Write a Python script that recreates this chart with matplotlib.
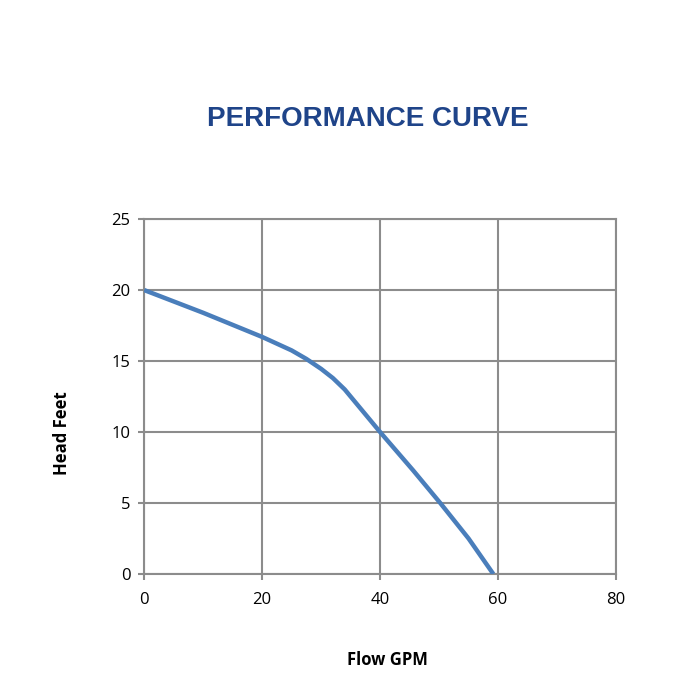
import matplotlib
matplotlib.use("Agg")
import matplotlib.pyplot as plt

flow = [0, 10, 20, 25, 27.5, 30, 32, 34, 35.5, 37, 38.5, 40, 45.6, 50.2, 55, 59.2]
head = [20, 18.4, 16.7, 15.75, 15.15, 14.45, 13.8, 13.0, 12.25, 11.5, 10.75, 10, 7.3, 5.0, 2.5, 0]
x_ticks = [0, 20, 40, 60, 80]
y_ticks = [0, 5, 10, 15, 20, 25]

fig = plt.figure(figsize=(7, 7), dpi=100)
ax = fig.add_axes([0.206, 0.18, 0.674, 0.507])
ax.plot(flow, head, color="#4A7EBB", lw=3.2, solid_capstyle="butt",
        solid_joinstyle="round", zorder=3)
ax.set_xlim(0, 80)
ax.set_ylim(0, 25)
ax.set_xticks(x_ticks)
ax.set_yticks(y_ticks)
ax.grid(True, color="#8C8C8C", lw=1.5)
for s in ax.spines.values():
    s.set_color("#8C8C8C")
    s.set_linewidth(1.5)
ax.tick_params(colors="#8C8C8C", length=4, width=1.5, labelcolor="black", labelsize=12)
ax.tick_params(axis="x", pad=9)
ax.tick_params(axis="y", pad=6)
for lab in ax.get_xticklabels() + ax.get_yticklabels():
    lab.set_family("Open Sans")
fig.text(0.554, 0.057, "Flow GPM", ha="center", va="center",
         fontfamily="Open Sans", fontweight="bold", fontsize=12)
fig.text(0.0886, 0.381, "Head Feet", ha="center", va="center", rotation=90,
         fontfamily="Open Sans", fontweight="bold", fontsize=12)
fig.text(0.526, 0.830, "PERFORMANCE CURVE", ha="center", va="center",
         fontfamily="Liberation Sans", fontweight="bold", fontsize=20, color="#1F4489")
fig.savefig("out.png", dpi=100, facecolor="white")
